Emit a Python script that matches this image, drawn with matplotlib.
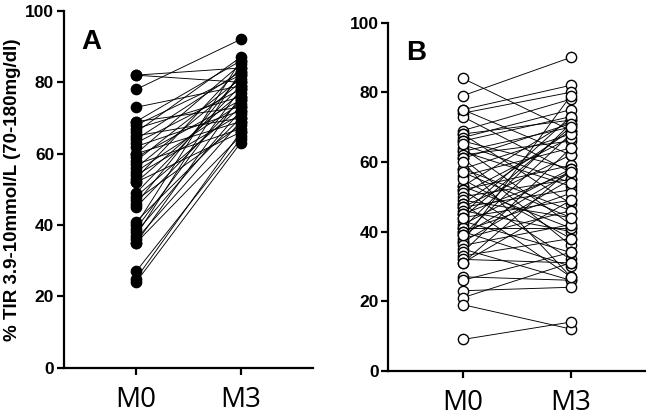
import matplotlib
matplotlib.use("Agg")
import matplotlib.pyplot as plt

groups = ["M0", "M3"]

# panel A: paired TIR values (M0 -> M3)
a_m0 = [82, 82, 78, 73, 69, 69, 68, 67, 66, 65, 64, 63, 62, 60, 60, 59, 58, 57, 56, 55,
        54, 53, 52, 52, 49, 48, 47, 46, 45, 41, 40, 39, 38, 37, 36, 35, 35, 27, 25, 24]
a_m3 = [84, 80, 92, 79, 86, 73, 82, 76, 87, 70, 83, 78, 72, 85, 69, 75, 81, 67, 80, 74,
        71, 84, 77, 66, 79, 73, 68, 82, 75, 70, 86, 78, 72, 83, 69, 76, 65, 64, 66, 63]

# panel B
b_m0 = [84, 79, 75, 74, 73, 75, 69, 68, 68, 67, 66, 66, 64, 63, 63, 62, 61, 61, 58, 58,
        56, 53, 53, 52, 52, 51, 50, 49, 48, 48, 47, 47, 46, 45, 45, 44, 43, 42, 41, 41,
        40, 40, 39, 38, 37, 37, 36, 35, 34, 33, 32, 31, 31, 27, 26, 23, 21, 19, 9, 55,
        60, 65, 44, 39, 57]
b_m3 = [69, 90, 82, 80, 57, 62, 78, 72, 48, 75, 58, 73, 42, 70, 53, 66, 71, 36, 68, 46,
        64, 72, 41, 59, 32, 67, 55, 44, 69, 27, 52, 62, 40, 57, 73, 49, 34, 58, 71, 41,
        51, 30, 68, 46, 79, 55, 42, 26, 64, 38, 31, 49, 58, 26, 34, 24, 31, 12, 14, 38,
        27, 54, 70, 57, 44]

fig = plt.figure(figsize=(6.46, 4.19), dpi=100)
axA = fig.add_axes([0.099, 0.122, 0.385, 0.852])
axB = fig.add_axes([0.601, 0.115, 0.398, 0.831])


def draw(ax, m0, m3, filled, letter):
    for y0, y1 in zip(m0, m3):
        ax.plot([0, 1], [y0, y1], color="black", lw=0.65, zorder=1)
    fc = "black" if filled else "white"
    ax.plot([0] * len(m0), m0, "o", ms=7.4, mfc=fc, mec="black", mew=1.0, ls="none", zorder=2)
    ax.plot([1] * len(m3), m3, "o", ms=7.4, mfc=fc, mec="black", mew=1.0, ls="none", zorder=2)
    ax.set_xlim(-0.69, 1.69)
    ax.set_ylim(0, 100)
    ax.set_xticks([0, 1])
    ax.set_xticklabels(groups, fontsize=20, family="Open Sans")
    ax.set_yticks([0, 20, 40, 60, 80, 100])
    for t in ax.get_yticklabels():
        t.set_fontweight("bold")
        t.set_fontsize(12.5)
        t.set_family("Liberation Sans")
    ax.spines["top"].set_visible(False)
    ax.spines["right"].set_visible(False)
    ax.spines["left"].set_linewidth(1.6)
    ax.spines["bottom"].set_linewidth(1.6)
    ax.tick_params(axis="both", width=1.6, length=5)
    ax.tick_params(axis="y", pad=2)
    ax.tick_params(axis="x", pad=8)
    ax.text(0.07, 0.95, letter, transform=ax.transAxes, fontsize=20, fontweight="bold",
            family="Liberation Sans", va="top", ha="left")


draw(axA, a_m0, a_m3, True, "A")
draw(axB, b_m0, b_m3, False, "B")
axA.set_ylabel("% TIR 3.9-10mmol/L (70-180mg/dl)", fontsize=13.5, fontweight="bold",
               family="Liberation Sans", labelpad=3)

fig.savefig("out.png", dpi=100)
